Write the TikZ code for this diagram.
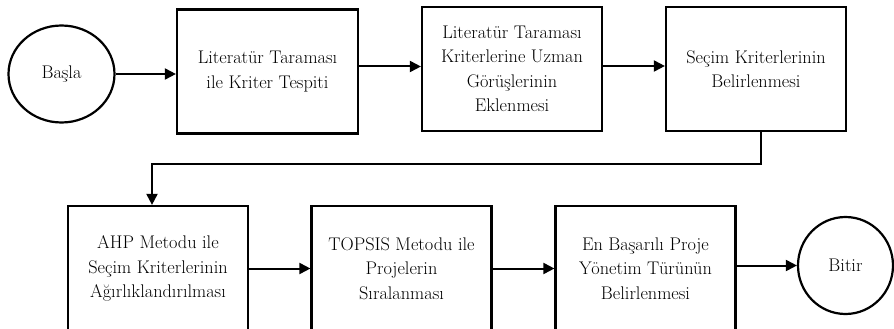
\documentclass[tikz,border=0pt]{standalone}
\usepackage{fontspec}
\usetikzlibrary{arrows.meta,shapes.geometric}
\begin{document}
\begin{tikzpicture}[x=1pt,y=-1pt,
  txt/.style={font=\rmfamily\fontsize{18.3}{24.5}\selectfont, align=center},
  stepbox/.style={txt, draw, line width=2.2pt, minimum width=180pt, minimum height=124pt, inner sep=0pt},
  term/.style={txt, draw, ellipse, line width=2.2pt, inner sep=0pt},
  arr/.style={line width=2pt, -{Triangle[length=11pt,width=11pt]}}]
\useasboundingbox (0,0) rectangle (894,329);
\clip (0,0) rectangle (894,329);
\node[term, minimum width=106pt, minimum height=97pt] (start) at (61.5,74) {Başla};
\node[stepbox, minimum width=181pt] (b1) at (267.5,71.5) {Literatür Taraması\\ile Kriter Tespiti};
\node[stepbox] (b2) at (512,69) {Literatür Taraması\\Kriterlerine Uzman\\Görüşlerinin\\Eklenmesi};
\node[stepbox] (b3) at (756,69) {Seçim Kriterlerinin\\Belirlenmesi};
\node[stepbox, minimum height=125pt] (b4) at (158,268.5) {AHP Metodu ile\\Seçim Kriterlerinin\\Ağırlıklandırılması};
\node[stepbox, minimum height=125pt] (b5) at (401.5,268.5) {TOPSIS Metodu ile\\Projelerin\\Sıralanması};
\node[stepbox, minimum height=125pt] (b6) at (645.5,268.5) {En Başarılı Proje\\Yönetim Türünün\\Belirlenmesi};
\node[term, minimum width=95pt, minimum height=97pt] (end) at (845.5,265.5) {Bitir};
\coordinate (mid) at (450,164);
\draw[arr] (start.east) -- (start.east -| b1.west);
\draw[arr] ([yshift=5pt]b1.east) -- ([yshift=5pt]b1.east -| b2.west);
\draw[arr] ([yshift=3pt]b2.east) -- ([yshift=3pt]b3.west);
\draw[arr] ([xshift=5pt]b3.south) |- (mid) -| ([xshift=-6pt]b4.north);
\draw[arr] (b4.east) -- (b5.west);
\draw[arr] (b5.east) -- (b6.west);
\draw[arr] (b6.east |- end.west) -- (end.west);
\end{tikzpicture}
\end{document}
